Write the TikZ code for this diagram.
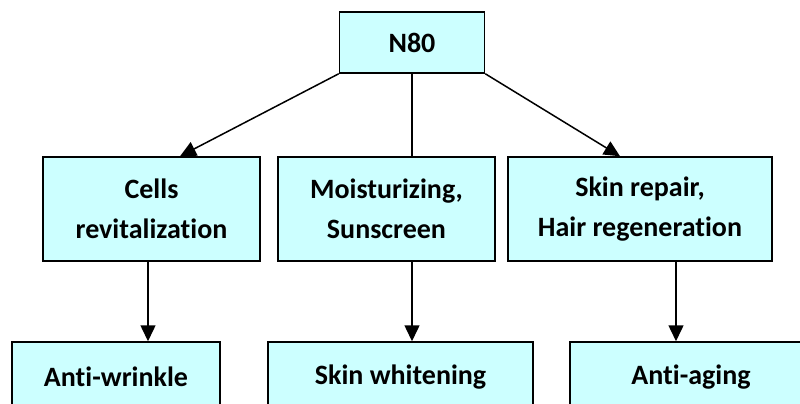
\documentclass[tikz,border=0pt]{standalone}
\usepackage{fontspec}
\setmainfont[Ligatures=NoCommon]{Carlito}
\usetikzlibrary{arrows.meta}
\definecolor{boxfill}{HTML}{CCFFFF}
\tikzset{
	box/.style={draw=black, fill=boxfill, line width=1.5pt, align=center, inner sep=0pt,
		font=\fontsize{28}{40}\selectfont\bfseries},
	link/.style={line width=1.5pt, -{Triangle[length=16pt,width=15pt]}}
}
\begin{document}
\begin{tikzpicture}[x=1pt,y=-1pt]
	\useasboundingbox (0,0) rectangle (800,404);
	\clip (0,0) rectangle (800,404);
	% top
	\node[box, minimum width=145pt, minimum height=61pt] (n80) at (412,42.5) {N80};
	% middle row
	\node[box, minimum width=217pt, minimum height=104pt] (cells) at (151.5,209) {Cells\\revitalization};
	\node[box, minimum width=217pt, minimum height=104pt] (moist) at (386.5,209) {Moisturizing,\\Sunscreen};
	\node[box, minimum width=264pt, minimum height=104pt] (repair) at (640,209) {Skin repair,\\Hair regeneration};
	% bottom row
	\node[box, minimum width=208pt, minimum height=70pt] (wrinkle) at (116,377) {Anti-wrinkle};
	\node[box, minimum width=265pt, minimum height=70pt] (whiten) at (400.5,377) {Skin whitening};
	\node[box, minimum width=242pt, minimum height=70pt] (aging) at (691,377) {Anti-aging};
	% connectors
	\draw[link] (n80.south west) -- ([xshift=28.5pt]cells.north);
	\draw[line width=1.5pt] (n80.south) -- (n80.south |- moist.north);
	\draw[link] (n80.south east) -- ([xshift=-20pt]repair.north);
	\draw[link] ([xshift=-3.5pt]cells.south) -- ([xshift=32pt]wrinkle.north);
	\draw[link] ([xshift=25.5pt]moist.south) -- ([xshift=11.5pt]whiten.north);
	\draw[link] ([xshift=36pt]repair.south) -- ([xshift=-15pt]aging.north);
\end{tikzpicture}
\end{document}
